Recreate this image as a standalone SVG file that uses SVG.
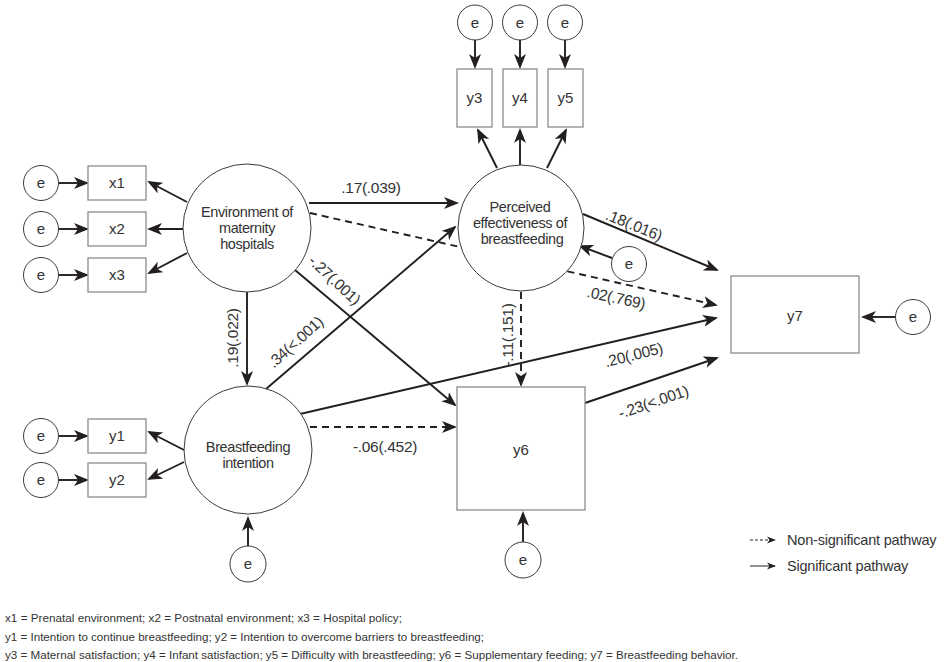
<svg xmlns="http://www.w3.org/2000/svg" width="948" height="662" viewBox="0 0 948 662">
<defs>
<style>
.ln{stroke:#231f20;stroke-width:1.9;fill:none}
.ds{stroke:#231f20;stroke-width:1.9;fill:none;stroke-dasharray:7 5}
.arr{marker-end:url(#ah)}
.lat{fill:#fff;stroke:#3a3a3a;stroke-width:1}
.err{fill:#fff;stroke:#3a3a3a;stroke-width:1}
.box{fill:#fff;stroke:#8c8c8c;stroke-width:1.3}
.t{font-family:"Liberation Sans",Arial,sans-serif;fill:#333;text-anchor:middle}
.nl{font-size:14.5px;letter-spacing:-0.4px}
.el{font-size:15.5px;letter-spacing:-0.3px}
.bx{font-size:15px}
.e{font-size:15px}
.fn{font-family:"Liberation Sans",Arial,sans-serif;font-size:11px;fill:#333}
.lg{font-family:"Liberation Sans",Arial,sans-serif;font-size:14.5px;letter-spacing:-0.2px;fill:#333}
</style>
<marker id="ah" markerUnits="userSpaceOnUse" markerWidth="16" markerHeight="14" viewBox="0 0 16 14" refX="13" refY="6" orient="auto">
<path d="M0,0 L15,6 L0,12 L4,6 Z" fill="#231f20"/>
</marker>
<marker id="ahs" markerUnits="userSpaceOnUse" markerWidth="10" markerHeight="8" viewBox="0 0 10 8" refX="8" refY="4" orient="auto">
<path d="M0,0.5 L9,4 L0,7.5 L2.5,4 Z" fill="#231f20"/>
</marker>
</defs>
<rect width="948" height="662" fill="#fff"/>

<g id="connectors">
<line class="ln arr" x1="309" y1="203" x2="457" y2="203"/>
<line class="ds arr" x1="310" y1="213" x2="716" y2="305"/>
<line class="ln arr" x1="247" y1="292" x2="247" y2="384"/>
<line class="ln arr" x1="295" y1="270" x2="455" y2="405"/>
<line class="ln arr" x1="266" y1="389" x2="455" y2="227"/>
<line class="ds arr" x1="310" y1="427" x2="455" y2="427"/>
<line class="ln arr" x1="300" y1="414" x2="716" y2="318"/>
<line class="ln arr" x1="583" y1="214" x2="717" y2="270"/>
<line class="ds arr" x1="521" y1="292" x2="521" y2="385"/>
<line class="ln arr" x1="585" y1="403" x2="717" y2="358"/>
<line class="ln arr" x1="187" y1="202" x2="149" y2="182"/>
<line class="ln arr" x1="183" y1="229" x2="149" y2="229"/>
<line class="ln arr" x1="187" y1="253" x2="149" y2="273"/>
<line class="ln arr" x1="497" y1="168" x2="478" y2="130"/>
<line class="ln arr" x1="520" y1="165" x2="520" y2="130"/>
<line class="ln arr" x1="547" y1="168" x2="566" y2="130"/>
<line class="ln arr" x1="184" y1="450" x2="149" y2="432"/>
<line class="ln arr" x1="184" y1="462" x2="149" y2="479"/>
<line class="ln arr" x1="58" y1="183" x2="87" y2="183"/>
<line class="ln arr" x1="58" y1="229" x2="87" y2="229"/>
<line class="ln arr" x1="58" y1="275" x2="87" y2="275"/>
<line class="ln arr" x1="58" y1="436" x2="87" y2="436"/>
<line class="ln arr" x1="58" y1="480" x2="87" y2="480"/>
<line class="ln arr" x1="475" y1="40" x2="475" y2="67"/>
<line class="ln arr" x1="520" y1="40" x2="520" y2="67"/>
<line class="ln arr" x1="565" y1="40" x2="565" y2="67"/>
<line class="ln arr" x1="612" y1="258" x2="580" y2="246"/>
<line class="ln arr" x1="895" y1="317" x2="863" y2="317"/>
<line class="ln arr" x1="248" y1="546" x2="248" y2="518"/>
<line class="ln arr" x1="523" y1="542" x2="523" y2="513"/>
</g>

<g id="env">
<circle class="lat" cx="247" cy="228" r="64"/>
<text class="t nl" x="247" y="217">Environment of</text>
<text class="t nl" x="247" y="233">maternity</text>
<text class="t nl" x="247" y="249">hospitals</text>
</g>
<g id="perceived">
<circle class="lat" cx="521" cy="228" r="63"/>
<text class="t nl" x="520" y="212">Perceived</text>
<text class="t nl" x="520" y="228">effectiveness of</text>
<text class="t nl" x="522" y="244">breastfeeding</text>
</g>
<g id="intention">
<circle class="lat" cx="248" cy="450" r="64"/>
<text class="t nl" x="248" y="452">Breastfeeding</text>
<text class="t nl" x="248" y="468">intention</text>
</g>

<g id="x1"><rect class="box" x="88" y="166" width="58" height="34"/><text class="t bx" x="117" y="188">x1</text></g>
<g id="x2"><rect class="box" x="88" y="212" width="58" height="34"/><text class="t bx" x="117" y="234">x2</text></g>
<g id="x3"><rect class="box" x="88" y="258" width="58" height="34"/><text class="t bx" x="117" y="280">x3</text></g>
<g id="y1"><rect class="box" x="88" y="419" width="58" height="34"/><text class="t bx" x="117" y="441">y1</text></g>
<g id="y2"><rect class="box" x="88" y="463" width="58" height="34"/><text class="t bx" x="117" y="485">y2</text></g>
<g id="y3"><rect class="box" x="457" y="69" width="35" height="58"/><text class="t bx" x="474.5" y="103">y3</text></g>
<g id="y4"><rect class="box" x="503" y="69" width="34" height="58"/><text class="t bx" x="520" y="103">y4</text></g>
<g id="y5"><rect class="box" x="548" y="69" width="35" height="58"/><text class="t bx" x="565.5" y="103">y5</text></g>
<g id="y6"><rect class="box" x="457" y="387" width="128" height="123"/><text class="t bx" x="521" y="455">y6</text></g>
<g id="y7"><rect class="box" x="731" y="276" width="128" height="77"/><text class="t bx" x="795" y="321">y7</text></g>

<g id="e-x1"><circle class="err" cx="41" cy="183" r="17.5"/><text class="t e" x="41" y="188">e</text></g>
<g id="e-x2"><circle class="err" cx="41" cy="229" r="17.5"/><text class="t e" x="41" y="234">e</text></g>
<g id="e-x3"><circle class="err" cx="41" cy="275" r="17.5"/><text class="t e" x="41" y="280">e</text></g>
<g id="e-y1"><circle class="err" cx="41" cy="436" r="17.5"/><text class="t e" x="41" y="441">e</text></g>
<g id="e-y2"><circle class="err" cx="41" cy="480" r="17.5"/><text class="t e" x="41" y="485">e</text></g>
<g id="e-y3"><circle class="err" cx="475" cy="22.5" r="17.5"/><text class="t e" x="475" y="27.5">e</text></g>
<g id="e-y4"><circle class="err" cx="520" cy="22.5" r="17.5"/><text class="t e" x="520" y="27.5">e</text></g>
<g id="e-y5"><circle class="err" cx="565" cy="22.5" r="17.5"/><text class="t e" x="565" y="27.5">e</text></g>
<g id="e-perceived"><circle class="err" cx="629" cy="264" r="17.5"/><text class="t e" x="629" y="269">e</text></g>
<g id="e-y7"><circle class="err" cx="913" cy="317" r="17.5"/><text class="t e" x="913" y="322">e</text></g>
<g id="e-intention"><circle class="err" cx="248" cy="564" r="18"/><text class="t e" x="248" y="569">e</text></g>
<g id="e-y6"><circle class="err" cx="523" cy="560" r="18"/><text class="t e" x="523" y="565">e</text></g>

<g id="edge-labels">
<text class="t el" x="371" y="193">.17(.039)</text>
<text class="t el" transform="translate(632,230) rotate(22)">.18(.016)</text>
<text class="t el" transform="translate(615,303) rotate(12)">.02(.769)</text>
<text class="t el" transform="translate(635,360) rotate(-14)">.20(.005)</text>
<text class="t el" transform="translate(655,407) rotate(-19)">-.23(&lt;.001)</text>
<text class="t el" transform="translate(238,338) rotate(-90)">.19(.022)</text>
<text class="t el" transform="translate(513,335) rotate(-90)">-.11(.151)</text>
<text class="t el" transform="translate(331,284) rotate(43)">-.27(.001)</text>
<text class="t el" transform="translate(299,346) rotate(-42)">.34(&lt;.001)</text>
<text class="t el" x="385" y="452">-.06(.452)</text>
</g>

<g id="legend">
<line x1="750" y1="540" x2="775" y2="540" stroke="#231f20" stroke-width="1" stroke-dasharray="3 2" marker-end="url(#ahs)"/>
<text class="lg" x="787" y="545">Non-significant pathway</text>
<line x1="750" y1="566" x2="775" y2="566" stroke="#231f20" stroke-width="1" marker-end="url(#ahs)"/>
<text class="lg" x="787" y="571">Significant pathway</text>
</g>

<g id="footnote">
<text class="fn" x="5" y="622" textLength="397" lengthAdjust="spacingAndGlyphs">x1 = Prenatal environment; x2 = Postnatal environment; x3 = Hospital policy;</text>
<text class="fn" x="5" y="641" textLength="479" lengthAdjust="spacingAndGlyphs">y1 = Intention to continue breastfeeding; y2 = Intention to overcome barriers to breastfeeding;</text>
<text class="fn" x="5" y="659" textLength="733" lengthAdjust="spacingAndGlyphs">y3 = Maternal satisfaction; y4 = Infant satisfaction; y5 = Difficulty with breastfeeding; y6 = Supplementary feeding; y7 = Breastfeeding behavior.</text>
</g>
</svg>
